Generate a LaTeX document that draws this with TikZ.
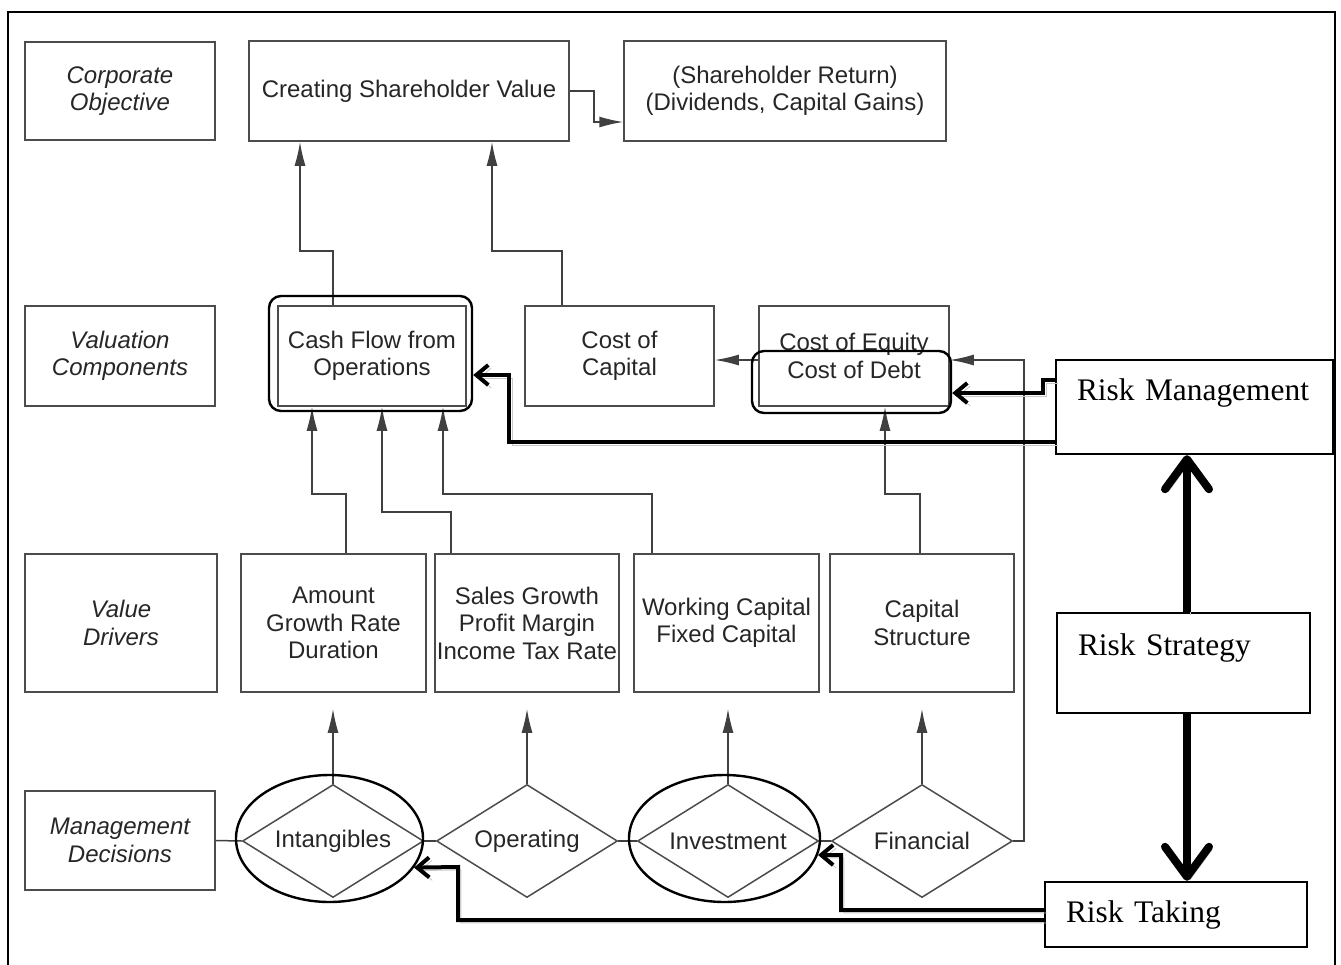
\documentclass[tikz,border=0pt]{standalone}
\usepackage{fontspec}
\newfontfamily\diagfont{Liberation Sans}
\newfontfamily\riskfont{Liberation Serif}
\usetikzlibrary{arrows.meta,shapes.geometric}

\tikzset{
  gbox/.style={draw=black!70, line width=0.75pt, inner sep=0pt, align=center,
    text=black!85, font=\diagfont\fontsize{12}{13.75}\selectfont},
  lbox/.style={gbox, font=\diagfont\itshape\fontsize{12}{13.75}\selectfont},
  dmd/.style={diamond, shape aspect=1.6, draw=black!70, line width=0.75pt, inner sep=0pt,
    minimum width=90.5pt, minimum height=56.5pt, text=black!85,
    font=\diagfont\fontsize{12}{13.75}\selectfont},
  hlbox/.style={draw=black, line width=1.2pt, rounded corners=6pt},
  hlell/.style={ellipse, draw=black, line width=1.2pt},
  riskbox/.style={draw=black, line width=1.2pt, inner xsep=10.5pt, inner ysep=0pt,
    align=left, font=\riskfont\fontsize{15.7}{18.8}\selectfont},
  conn/.style={draw=black!75, line width=0.75pt},
  arr/.style={conn, -{Latex[length=12pt,width=5.5pt]}},
  dropshade/.style={preaction={draw=black!22, transform canvas={shift={(1.5pt,-1.5pt)}}}},
  risk/.style={draw=black, line width=2pt, dropshade, -{Straight Barb[length=6pt,width=10pt]}},
  bigrisk/.style={draw=black, line width=4pt, dropshade, -{Straight Barb[length=15pt,width=22pt,round]}},
}

\begin{document}
\begin{tikzpicture}[x=0.5pt,y=-0.5pt]
\useasboundingbox (0,0) rectangle (1341,965);
\draw[line width=1pt] (8,965) -- (8,12) -- (1335,12) -- (1335,965);

% row 1
\node[lbox, minimum width=95pt, minimum height=49pt] (corp) at (120,91) {Corporate\\Objective};
\node[gbox, minimum width=160pt, minimum height=50pt] (csv) at (409,91) {Creating Shareholder Value};
\node[gbox, minimum width=161pt, minimum height=50pt] (ret) at (785,91) {(Shareholder Return)\\(Dividends, Capital Gains)};

% row 2
\node[lbox, minimum width=95pt, minimum height=50pt] (valc) at (120,356) {Valuation\\Components};
\node[gbox, minimum width=94pt, minimum height=50pt] (cfo) at (372,356) {Cash Flow from\\Operations};
\node[gbox, minimum width=94.5pt, minimum height=50pt] (coc) at (619.5,356) {Cost of\\Capital};
\node[gbox, minimum width=95pt, minimum height=50pt] (coe) at (854,356) {Cost of Equity\\Cost of Debt};

% row 3
\node[lbox, minimum width=96pt, minimum height=69pt] (vdr) at (121,623) {Value\\Drivers};
\node[gbox, minimum width=92.5pt, minimum height=69pt] (amt) at (333.5,623) {Amount\\Growth Rate\\Duration};
\node[gbox, minimum width=92pt, minimum height=69pt] (sal) at (527,623) {Sales Growth\\Profit Margin\\Income Tax Rate};
\node[gbox, minimum width=92.5pt, minimum height=69pt] (wcap) at (726.5,623) {Working Capital\\Fixed Capital};
\node[gbox, minimum width=92pt, minimum height=69pt] (cstr) at (922,623) {Capital\\Structure};

% row 4
\node[lbox, minimum width=95pt, minimum height=49.5pt] (mgd) at (120,840.5) {Management\\Decisions};
\node[dmd] (intang) at (333,841) {Intangibles};
\node[dmd] (oper) at (527,841) {Operating};
\node[dmd] (invest) at (728,841) {Investment};
\node[dmd] (fin) at (922,841) {Financial};

% grey connectors
\draw[conn, -{Latex[length=12pt,width=5.5pt]}] (csv.east) -| (594,122) -- (ret.west |- 0,122);
\draw[arr] (333,0 |- cfo.north) |- (300,251) -- (300,0 |- csv.south);
\draw[arr] (562,0 |- coc.north) |- (492,251) -- (492,0 |- csv.south);
\draw[arr] (346,0 |- amt.north) |- (312,494) -- (312,0 |- cfo.south);
\draw[arr] (451,0 |- sal.north) |- (382,512) -- (382,0 |- cfo.south);
\draw[arr] (652,0 |- wcap.north) |- (443,494) -- (443,0 |- cfo.south);
\draw[arr] (920,0 |- cstr.north) |- (885,494) -- (885,0 |- coe.south);
\draw[arr] (coe.west |- 0,360) -- (coc.east |- 0,360);
\draw[arr] (fin.east) -- (1024,841) -- (1024,360) -- (coe.east |- 0,360);
\draw[conn] (mgd.east) -- (intang.west);
\draw[conn] (intang.east) -- (oper.west);
\draw[conn] (oper.east) -- (invest.west);
\draw[conn] (invest.east) -- (fin.west);
\draw[arr, shorten >=8pt] (intang.north) -- (intang.north |- amt.south);
\draw[arr, shorten >=8pt] (oper.north) -- (oper.north |- sal.south);
\draw[arr, shorten >=8pt] (invest.north) -- (invest.north |- wcap.south);
\draw[arr, shorten >=8pt] (fin.north) -- (fin.north |- cstr.south);

% highlights
\node[hlbox, minimum width=101.5pt, minimum height=57.5pt] (hcfo) at (370.5,353.5) {};
\node[hlbox, minimum width=99.5pt, minimum height=31pt] (hcod) at (851.5,382) {};
\node[hlell, minimum width=93.5pt, minimum height=63.5pt] (hint) at (329.5,838.5) {};
\node[hlell, minimum width=95.5pt, minimum height=63.5pt] (hinv) at (724.5,838.5) {};

% risk boxes
\node[riskbox, text width=117.5pt, minimum height=47pt, text height=11pt, text depth=17.6pt] (rm) at (1194.5,407) {Risk Management};
\node[riskbox, text width=105.5pt, minimum height=50pt, text height=11pt, text depth=18.6pt] (rs) at (1183.5,663) {Risk Strategy};
\node[riskbox, text width=110pt, minimum height=32.5pt] (rt) at (1176,914.5) {Risk Taking};

\draw[bigrisk] ([xshift=1.75pt]rs.north) -- ([xshift=1.75pt]rs.north |- rm.south);
\draw[bigrisk] ([xshift=1.75pt]rs.south) -- ([xshift=1.75pt]rs.south |- rt.north);
\draw[risk] (rm.west |- 0,380) -- (1043,380) -- (1043,393) -- (hcod.east |- 0,393);
\draw[risk] (rm.west |- 0,442) -| (509,375) -- (hcfo.east |- 0,375);
\draw[risk] (rt.west |- 0,910) -| (841,855) -- (hinv.-10);
\draw[risk] (rt.west |- 0,920) -| (458,867) -- (hint.-19);
\end{tikzpicture}
\end{document}
